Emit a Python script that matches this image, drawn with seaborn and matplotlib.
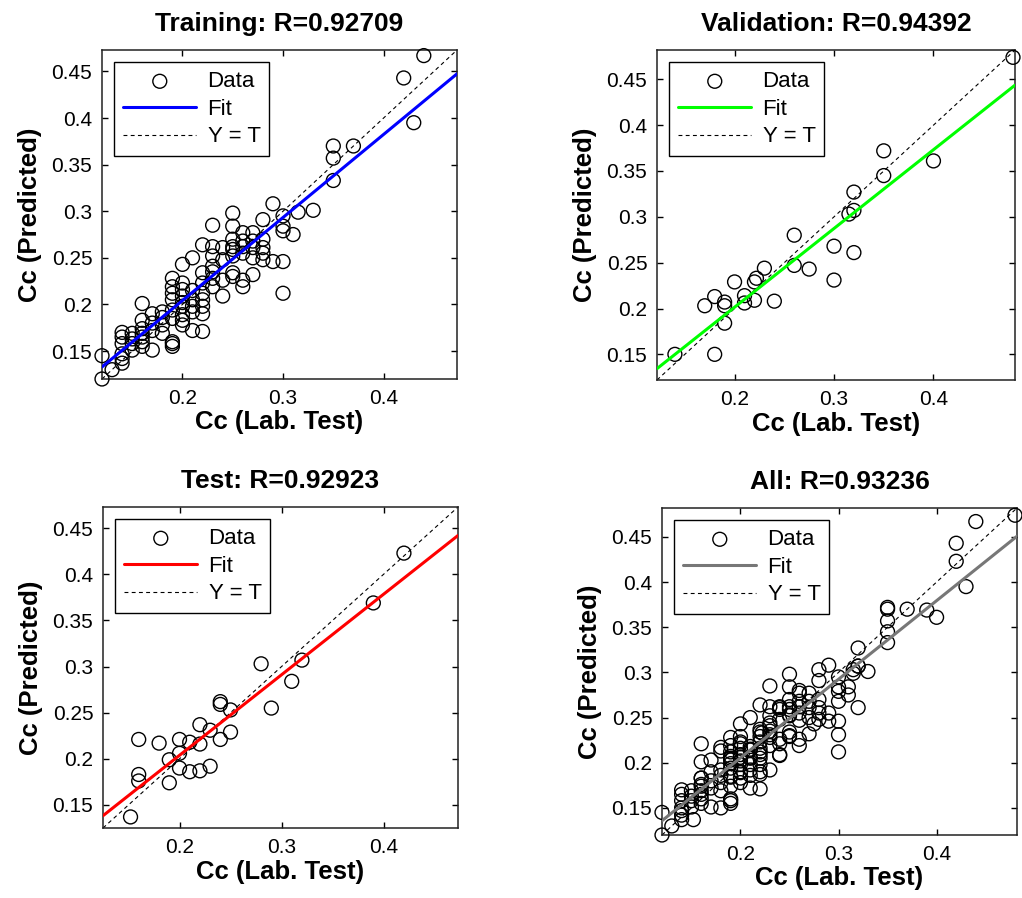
import numpy as np
import pandas as pd
import matplotlib
matplotlib.use("Agg")
import matplotlib.pyplot as plt
import seaborn as sns

sns.set_style("ticks")
plt.rcParams['font.family'] = ['Liberation Sans', 'DejaVu Sans']
plt.rcParams['text.color'] = 'black'
plt.rcParams['axes.labelcolor'] = 'black'

# ---------------- data ----------------
train_x = [0.12, 0.12, 0.13,
           0.14, 0.14, 0.14, 0.14, 0.14, 0.14,
           0.15, 0.15, 0.15, 0.15,
           0.16, 0.16, 0.16, 0.16, 0.16, 0.16, 0.16,
           0.17, 0.17, 0.17, 0.17,
           0.18, 0.18, 0.18, 0.18,
           0.19, 0.19, 0.19, 0.19, 0.19, 0.19, 0.19, 0.19, 0.19,
           0.20, 0.20, 0.20, 0.20, 0.20, 0.20, 0.20, 0.20, 0.20,
           0.21, 0.21, 0.21, 0.21, 0.21, 0.21,
           0.22, 0.22, 0.22, 0.22, 0.22, 0.22, 0.22, 0.22,
           0.23, 0.23, 0.23, 0.23, 0.23, 0.23, 0.23,
           0.24, 0.24, 0.24, 0.24,
           0.25, 0.25, 0.25, 0.25, 0.25, 0.25, 0.25, 0.25,
           0.26, 0.26, 0.26, 0.26, 0.26, 0.26,
           0.27, 0.27, 0.27, 0.27, 0.27,
           0.28, 0.28, 0.28, 0.28, 0.28,
           0.29, 0.29,
           0.30, 0.30, 0.30, 0.30, 0.30,
           0.31, 0.315, 0.33,
           0.35, 0.35, 0.35, 0.37,
           0.42, 0.43, 0.44]
train_y = [0.120, 0.145, 0.130,
           0.170, 0.165, 0.158, 0.147, 0.142, 0.137,
           0.169, 0.151, 0.158, 0.163,
           0.174, 0.201, 0.183, 0.169, 0.160, 0.155, 0.165,
           0.151, 0.190, 0.172, 0.180,
           0.192, 0.178, 0.169, 0.186,
           0.228, 0.219, 0.212, 0.205, 0.160, 0.155, 0.158, 0.194, 0.185,
           0.243, 0.223, 0.216, 0.198, 0.189, 0.183, 0.178, 0.209, 0.202,
           0.250, 0.205, 0.192, 0.172, 0.215, 0.198,
           0.234, 0.223, 0.205, 0.190, 0.171, 0.212, 0.264, 0.198,
           0.285, 0.262, 0.252, 0.241, 0.228, 0.219, 0.235,
           0.261, 0.209, 0.226, 0.248,
           0.298, 0.284, 0.262, 0.259, 0.252, 0.234, 0.230, 0.270,
           0.262, 0.277, 0.226, 0.219, 0.255, 0.268,
           0.277, 0.261, 0.250, 0.232, 0.268,
           0.291, 0.270, 0.261, 0.255, 0.248,
           0.308, 0.246,
           0.295, 0.284, 0.279, 0.246, 0.212,
           0.275, 0.299, 0.301,
           0.370, 0.357, 0.333, 0.370,
           0.443, 0.395, 0.467]

val_x = [0.14, 0.18, 0.17, 0.18, 0.19, 0.19, 0.19, 0.20, 0.21, 0.21, 0.22,
         0.22, 0.222, 0.23, 0.24, 0.26, 0.26, 0.275, 0.30, 0.30, 0.32, 0.315,
         0.32, 0.32, 0.35, 0.35, 0.40, 0.48]
val_y = [0.150, 0.150, 0.203, 0.213, 0.207, 0.203, 0.184, 0.229, 0.214, 0.206, 0.209,
         0.229, 0.233, 0.244, 0.208, 0.280, 0.247, 0.243, 0.268, 0.231, 0.261, 0.303,
         0.307, 0.327, 0.372, 0.345, 0.361, 0.474]

test_x = [0.152, 0.16, 0.16, 0.16, 0.18, 0.19, 0.19, 0.20, 0.20, 0.20, 0.21, 0.21,
          0.22, 0.22, 0.22, 0.23, 0.23, 0.24, 0.24, 0.24, 0.25, 0.25, 0.28, 0.29,
          0.31, 0.32, 0.39, 0.42]
test_y = [0.137, 0.221, 0.183, 0.176, 0.217, 0.199, 0.174, 0.221, 0.206, 0.190, 0.218, 0.186,
          0.237, 0.216, 0.187, 0.231, 0.192, 0.262, 0.259, 0.221, 0.253, 0.229, 0.303, 0.255,
          0.284, 0.307, 0.369, 0.423]

titles = ["Training: R=0.92709", "Validation: R=0.94392",
          "Test: R=0.92923", "All: R=0.93236"]
fit_slope = [0.891, 0.859, 0.873, 0.870]
fit_intercept = [0.026, 0.0296, 0.0292, 0.0314]
axis_limits = [(0.12, 0.473), (0.122, 0.482), (0.125, 0.473), (0.12, 0.482)]
fit_colors = ["#0000ff", "#00ff00", "#ff0000", "#777777"]

xtick_vals = [0.2, 0.3, 0.4]
xtick_labels = ["0.2", "0.3", "0.4"]
ytick_vals = [0.15, 0.2, 0.25, 0.3, 0.35, 0.4, 0.45]
ytick_labels = ["0.15", "0.2", "0.25", "0.3", "0.35", "0.4", "0.45"]

all_x = train_x + val_x + test_x
all_y = train_y + val_y + test_y
sets = [(train_x, train_y), (val_x, val_y), (test_x, test_y), (all_x, all_y)]

# ---------------- figure ----------------
fig = plt.figure(figsize=(10.22, 8.98), dpi=100)
W, H = 1022, 898
boxes = [(102, 50, 457, 379), (657, 50, 1015, 380),
         (103, 507, 458, 828), (662, 508, 1017, 835)]

for i, (l, t, r, b) in enumerate(boxes):
    ax = fig.add_axes([l / W, 1 - b / H, (r - l) / W, (b - t) / H])
    x, y = sets[i]
    df = pd.DataFrame({"target": x, "output": y})
    lo, hi = axis_limits[i]
    sns.scatterplot(data=df, x="target", y="output", ax=ax, marker="o",
                    s=100, facecolor="none", edgecolor="black", linewidth=1.0,
                    label="Data", zorder=3, clip_on=False)
    lx = np.array([lo, hi])
    ax.plot(lx, fit_slope[i] * lx + fit_intercept[i], color=fit_colors[i],
            lw=2.2, label="Fit", zorder=4)
    ax.plot(lx, lx, color="black", lw=0.8, ls=(0, (3.5, 3)), label="Y = T", zorder=2)
    ax.set_xlim(lo, hi)
    ax.set_ylim(lo, hi)
    ax.set_xticks(xtick_vals)
    ax.set_xticklabels(xtick_labels)
    ax.set_yticks(ytick_vals)
    ax.set_yticklabels(ytick_labels)
    ax.tick_params(direction="in", length=4, width=1, labelsize=15,
                   top=True, right=True, pad=7, colors="black")
    for sp in ax.spines.values():
        sp.set_linewidth(1.1)
        sp.set_color("#222222")
    ax.set_xlabel("Cc (Lab. Test)", fontsize=18.5, fontweight="bold",
                  labelpad=2, color="black")
    ax.set_ylabel("Cc (Predicted)", fontsize=18.5, fontweight="bold",
                  labelpad=7, color="black")
    ax.set_title(titles[i], fontsize=19, fontweight="bold", pad=14, color="black")
    h, lab = ax.get_legend_handles_labels()
    leg = ax.legend(h, lab, loc="upper left", fontsize=16, frameon=True,
                    fancybox=False, edgecolor="black", framealpha=1,
                    borderpad=0.4, labelspacing=0.3, handlelength=3.3,
                    handletextpad=0.5, borderaxespad=0.55, markerscale=1.0)
    for txt in leg.get_texts():
        txt.set_color("black")
    leg.get_frame().set_linewidth(1.0)

fig.savefig("out.png", dpi=100)
